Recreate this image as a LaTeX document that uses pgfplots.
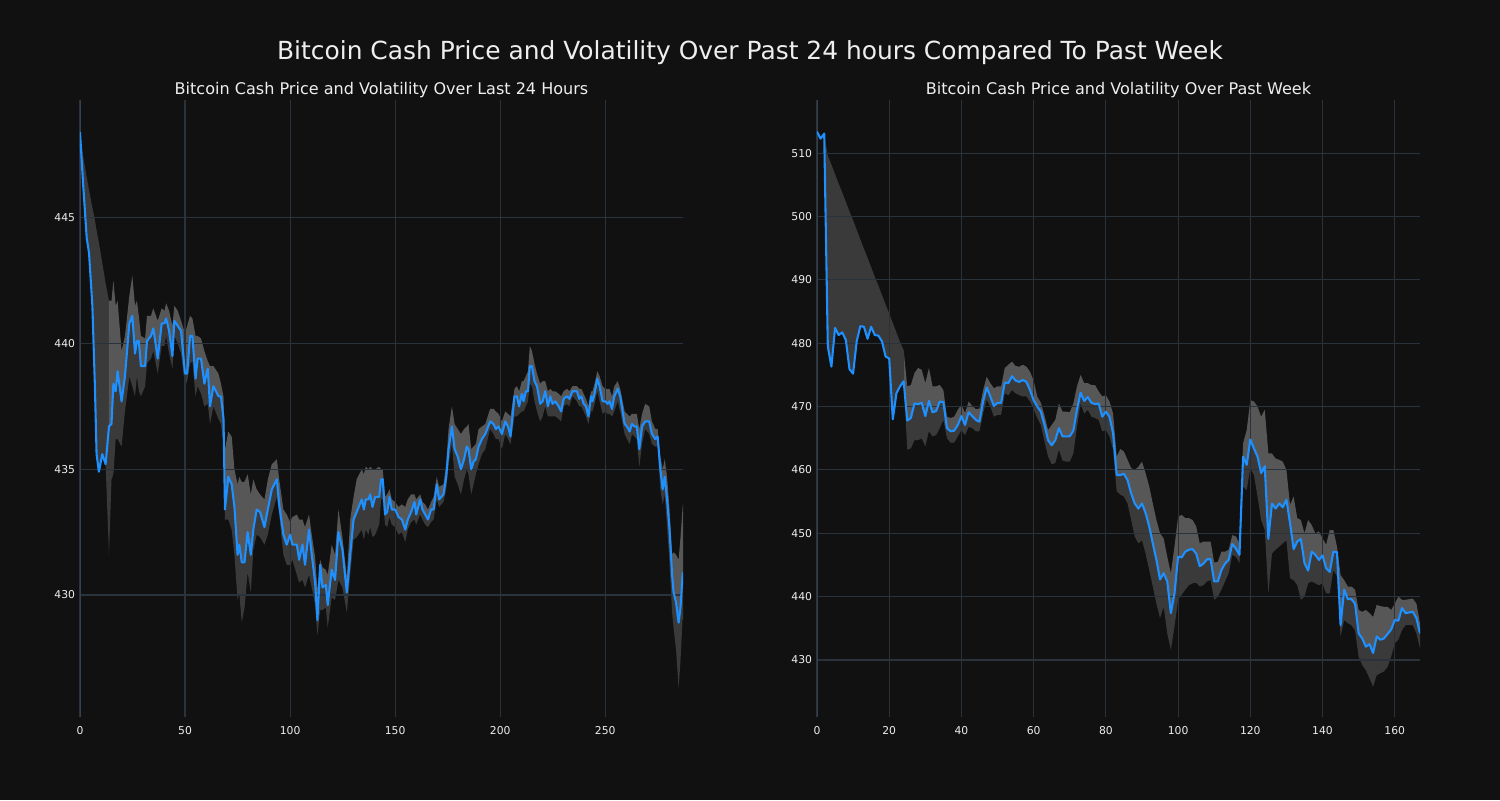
\documentclass[border=0pt]{standalone}
\usepackage{pgfplots}
\pgfplotsset{compat=1.18}
\usepackage{pgfplotstable}
\usepgfplotslibrary{fillbetween}
\usepackage{fontspec}
\setmainfont{DejaVu Sans}
\definecolor{bg}{HTML}{111111}
\definecolor{gridc}{HTML}{2A323C}
\definecolor{spinec}{HTML}{34404C}
\definecolor{pricec}{HTML}{1E90FF}
\definecolor{bandhi}{HTML}{575757}
\definecolor{bandlo}{HTML}{3A3A3A}
\definecolor{txt}{HTML}{EEEEEE}
\pagecolor{bg}

\pgfplotsset{
  layers/mylayers/.define layer set={axis background,pre main,axis grid,axis ticks,axis lines,axis tick labels,main,axis descriptions,axis foreground}{},
}

\pgfplotstableread{
x p u l
0 448.4 448.4 448.4
1.6 446.2 447.4 446.2
3.2 444.2 446.6 444.2
4.3 443.6 446.1 443.6
5.9 441.5 445.4 441.5
7.1 438.3 444.9 438.3
7.9 435.6 444.5 435.6
9 434.9 444.0 434.9
10.6 435.6 443.2 435.6
12.2 435.2 442.4 435.2
13.8 436.7 441.7 431.6
15 436.8 441.7 434.6
15.9 438.4 442.5 434.8
17 438.1 441.5 436.2
17.9 438.9 441.7 436.2
19.8 437.7 439.7 435.9
21.4 438.7 440.3 437.3
23.5 440.8 441.9 438.7
24.9 441.1 442.7 438.3
26.2 439.6 441.5 437.9
27.1 440.1 441.7 438.7
28 440.1 441.1 438.1
29 439.1 440.3 437.9
31 439.1 440.2 438.3
31.9 440.1 441.1 439.2
33.8 440.3 441.1 439.4
34.9 440.6 441.4 439.7
37 439.4 440.9 438.8
38.9 440.8 441.4 439.9
40.2 440.8 441.3 439.9
41 441.0 441.6 440.3
42.4 440.5 441.3 439.6
44 439.5 440.7 439.0
44.9 440.9 441.5 440.3
46.5 440.7 441.3 440.0
48.1 440.5 440.9 439.6
50 438.8 440.4 438.3
51 438.8 440.7 438.5
52.4 440.3 441.1 439.2
53.5 440.3 441.0 439.3
55 438.6 440.3 437.9
56 439.4 440.3 438.3
57.6 439.4 440.2 438.0
59.2 438.4 439.7 437.5
60.8 439.0 439.3 437.6
61.9 437.5 439.1 436.8
63.5 438.3 439.1 437.5
65.9 437.9 438.8 437.0
67.1 437.9 438.4 436.8
68.3 437.0 437.9 435.9
69 433.4 435.8 433.0
70.6 434.7 436.5 433.0
72.2 434.4 436.3 432.6
73.5 433.5 435.0 431.6
75 431.6 434.4 429.8
75.8 432.0 434.7 430.1
77 431.3 434.5 428.9
78.3 431.3 434.5 429.5
79.8 432.5 434.8 430.9
81.3 431.6 434.0 430.1
82.5 432.6 434.6 431.8
84.1 433.4 434.2 432.4
85.7 433.3 434.0 432.3
87.8 432.7 433.8 432.0
89.4 433.4 434.6 432.4
91.3 434.2 435.2 433.2
93.7 434.6 435.4 433.9
94.8 433.6 434.6 433.2
96.8 432.4 433.4 431.6
98.4 432.0 433.2 431.2
100 432.4 432.9 431.2
101.1 432.0 433.1 431.4
103.2 432.0 433.2 430.8
104.3 431.4 433.0 430.5
105.9 432.0 433.0 430.6
107.1 431.2 432.7 430.3
109 432.6 433.2 430.8
110.3 431.6 432.4 430.3
111.9 430.5 431.5 429.6
113 429.0 430.2 428.4
114.3 431.2 431.4 429.4
115.4 430.3 431.1 429.4
117 430.4 431.0 429.5
117.9 429.6 430.8 428.7
119.8 431.0 432.0 429.9
121.4 430.6 431.6 429.8
123 432.5 433.4 430.6
124.9 431.8 432.3 430.3
127 430.1 430.7 429.3
128.6 431.6 433.0 430.8
130.2 433.0 433.9 432.2
131.7 433.3 434.6 432.3
134.1 433.8 435.0 432.6
135.1 433.4 434.8 432.2
136 433.8 435.1 432.6
137.3 433.8 435.0 432.4
138.1 434.0 435.1 432.7
139.2 433.5 435.0 432.3
140.5 433.9 435.0 432.4
142.4 433.9 435.1 432.8
143.3 434.6 435.0 433.8
144.1 434.6 435.0 433.8
145.2 433.2 433.9 432.8
146.2 433.3 434.0 432.7
147.3 433.9 434.2 433.1
148.4 433.4 433.8 432.8
150 433.4 433.7 432.7
151.6 433.1 433.5 432.4
153.2 433.0 433.6 432.5
154.8 432.6 433.5 432.1
156 433.0 433.8 432.6
157.6 433.3 434.0 432.9
159.2 433.7 434.0 433.0
160 433.2 433.8 432.8
161.9 433.8 434.0 433.2
163 433.4 433.7 433.0
164.3 433.2 433.6 432.8
165.6 433.0 433.4 432.7
167.1 433.4 433.7 432.9
168.3 433.4 433.9 433.0
169.8 434.4 434.7 433.8
170.9 433.8 434.3 433.5
173 434.0 434.4 433.7
174.3 434.7 435.2 434.2
175.4 435.8 436.6 435.2
177 436.7 437.5 436.0
178.3 435.8 436.8 434.7
179.8 435.5 436.6 434.4
181.3 435.0 436.4 434.0
182.8 435.4 436.6 434.6
184.1 435.9 436.7 435.0
184.9 435.8 436.8 434.8
186.2 435.0 435.8 434.0
187.3 435.3 435.9 434.4
188.4 435.4 436.0 434.8
189.7 435.9 436.6 435.2
191.3 436.2 436.7 435.6
192.9 436.4 436.8 435.8
195.2 436.9 437.4 436.6
196.8 436.8 437.4 436.4
197.9 436.6 437.3 436.2
199.2 436.7 437.2 436.2
200.8 436.4 436.9 435.8
202.4 436.9 437.3 436.4
203.7 436.7 437.2 436.2
204.9 436.3 437.1 436.0
206.8 437.9 438.2 437.1
207.9 437.9 438.3 437.1
209 437.5 438.1 437.2
210.3 438.0 438.5 437.3
211.1 437.7 438.5 437.3
212.2 438.1 438.7 437.5
213.2 438.1 438.9 437.7
214.1 439.1 439.9 438.4
215.1 439.1 439.7 438.3
216.3 438.5 439.2 437.7
217.5 438.3 438.8 437.3
219 437.6 438.4 436.9
220.2 437.7 438.5 437.1
221.4 438.1 438.5 437.5
222.7 437.5 438.1 437.1
223.8 437.9 438.2 437.1
224.9 437.6 438.1 437.1
226.2 437.7 438.1 437.1
227.8 437.5 438.0 437.0
229 437.3 437.9 436.9
230.2 437.8 438.1 437.5
231.7 437.9 438.2 437.6
232.9 437.8 438.1 437.5
234.4 438.1 438.3 437.9
236.5 438.1 438.3 437.7
237.6 437.8 438.2 437.5
238.6 437.9 438.2 437.5
239.7 437.6 438.0 437.3
240.8 437.5 437.8 437.1
242 437.1 437.5 436.8
243.2 437.9 438.1 437.3
243.9 437.7 438.1 437.3
244.9 438.0 438.4 437.6
246.2 438.6 438.9 438.1
247.3 438.3 438.7 437.7
248.7 437.7 438.3 437.2
250 437.7 438.2 437.3
251.1 437.6 438.2 437.2
252 437.7 438.2 437.2
253.2 437.4 437.9 437.1
254.3 437.9 438.3 437.3
255.9 438.2 438.5 437.7
257.1 437.9 438.2 437.3
259.2 436.8 437.3 436.4
260.3 436.7 437.2 436.2
261.6 436.5 437.1 436.0
262.7 436.8 437.2 436.4
263.9 436.7 437.2 436.3
265 436.7 437.2 436.2
266.2 435.8 436.6 435.1
267.5 436.7 437.2 436.0
269 436.9 437.6 436.6
270.9 436.9 437.5 436.4
272.2 436.4 436.9 436.0
273.8 436.2 436.6 435.9
274.9 436.3 436.6 435.9
276.2 435.0 435.5 434.2
277.3 434.2 435.0 433.6
278.3 434.7 435.4 434.0
279.4 433.8 434.7 432.7
280.5 432.7 433.5 431.4
281.8 430.8 431.6 429.3
282.5 430.1 431.7 428.7
283.7 429.7 431.6 427.8
284.9 428.9 431.4 426.3
285.8 429.5 432.3 427.4
286.8 430.8 433.5 429.1
287 430.9 433.6 429.0
}\leftdata

\pgfplotstableread{
x p u l
0 513.4 513.4 513.4
1 512.3 512.3 512.3
2 513.1 513.1 513.1
3 479.5 509.6 479.5
4 476.3 508.2 476.3
5 482.4 506.7 482.4
6 481.3 505.2 481.3
7 481.7 503.8 481.7
8 480.5 502.3 480.5
9 475.9 500.8 475.9
10 475.2 499.4 475.2
11 480.3 497.9 480.3
12 482.7 496.4 482.7
13 482.6 494.9 482.6
14 480.7 493.5 480.7
15 482.6 492.0 482.6
16 481.3 490.5 481.3
17 481.2 489.1 481.2
18 480.3 487.6 480.3
19 477.9 486.1 477.9
20 477.6 484.7 477.6
21 468.0 483.2 468.0
22 472.1 481.7 472.1
23 473.2 480.2 473.2
24 474.0 478.9 474.0
25 467.8 473.2 463.2
26 468.2 473.4 463.4
27 470.5 475.3 464.7
28 470.4 476.1 464.7
29 470.6 475.8 465.0
30 468.5 473.7 463.7
31 470.9 476.1 466.1
32 469.1 473.2 465.3
33 469.3 473.2 465.5
34 470.8 473.4 466.6
35 470.7 472.6 467.9
36 466.6 468.4 465.0
37 466.1 468.2 464.3
38 466.2 468.4 464.3
39 467.1 469.5 465.3
40 468.5 470.3 466.3
41 467.1 469.0 465.5
42 469.1 470.8 466.8
43 468.5 470.1 466.6
44 467.9 469.6 466.1
45 467.6 469.7 466.1
46 470.8 472.6 468.9
47 473.0 474.7 471.1
48 471.6 473.7 470.0
49 470.1 472.9 468.4
50 470.6 473.2 468.7
51 470.6 473.2 468.7
52 473.8 476.1 472.1
53 473.7 476.6 471.8
54 474.8 477.1 472.6
55 474.1 476.4 472.1
56 473.9 476.3 471.8
57 474.2 476.6 471.6
58 473.9 476.3 471.6
59 472.6 475.5 470.8
60 471.0 474.1 469.6
61 470.0 471.6 468.2
62 469.2 470.6 467.1
63 467.1 468.6 464.5
64 464.7 466.3 462.1
65 463.9 467.1 460.9
66 464.7 467.9 461.1
67 466.6 470.5 463.2
68 465.3 469.2 461.5
69 465.3 469.2 461.3
70 465.3 469.1 461.3
71 466.2 470.5 462.6
72 469.5 473.2 466.8
73 472.2 475.0 470.5
74 470.9 473.7 468.9
75 471.5 473.7 469.5
76 470.6 473.4 468.4
77 470.4 473.4 468.2
78 470.5 472.4 467.9
79 468.4 471.6 466.1
80 469.2 471.8 466.3
81 468.4 470.8 465.3
82 465.8 468.9 463.2
83 459.2 462.1 456.6
84 459.2 463.3 456.1
85 459.4 462.9 455.8
86 458.4 461.6 454.7
87 456.3 460.3 452.1
88 454.7 460.0 449.5
89 453.9 460.5 448.4
90 454.7 461.3 448.9
91 453.2 459.5 446.8
92 451.1 457.4 444.2
93 448.4 454.7 441.6
94 445.8 452.1 438.9
95 442.7 450.0 436.6
96 443.7 449.2 438.4
97 442.4 446.3 434.2
98 437.4 443.7 431.6
99 440.5 447.9 435.3
100 446.3 452.6 439.5
101 446.2 452.9 440.3
102 447.1 452.4 441.1
103 447.4 452.4 441.8
104 447.5 452.1 442.1
105 446.8 451.1 442.2
106 444.8 448.4 441.6
107 445.2 448.7 441.8
108 445.9 448.7 442.4
109 445.9 448.7 442.6
110 442.4 445.4 439.5
111 442.4 445.5 440.0
112 444.2 447.1 441.1
113 445.2 447.1 442.4
114 445.8 447.4 443.7
115 448.3 449.7 446.6
116 447.6 449.5 446.3
117 446.6 448.4 445.3
118 462.1 464.2 457.4
119 460.8 466.3 456.8
120 464.8 471.0 460.3
121 463.4 470.8 459.2
122 462.1 470.0 455.8
123 459.5 468.4 452.1
124 460.6 469.5 450.5
125 449.1 462.6 440.5
126 454.7 462.6 446.8
127 453.9 461.8 447.4
128 454.7 461.6 447.9
129 454.1 461.3 448.4
130 455.3 460.0 448.9
131 451.6 454.5 442.9
132 447.5 455.8 442.6
133 448.7 452.4 441.8
134 449.1 452.1 439.5
135 445.3 450.0 440.0
136 444.1 452.1 442.1
137 447.1 451.3 442.4
138 446.6 450.0 442.1
139 445.8 450.3 441.8
140 446.5 449.2 442.1
141 444.5 448.2 440.5
142 443.9 450.5 440.5
143 447.1 450.5 444.2
144 447.0 447.9 443.2
145 435.5 443.4 433.7
146 441.1 442.6 436.3
147 439.6 441.6 435.8
148 439.6 441.6 435.5
149 438.9 441.1 434.7
150 434.2 437.9 430.5
151 433.4 437.6 429.2
152 432.1 437.9 428.4
153 432.5 437.4 427.1
154 431.1 436.8 425.8
155 433.7 438.7 427.6
156 433.2 438.5 427.9
157 433.4 438.4 428.2
158 434.1 438.4 428.9
159 434.8 437.9 430.5
160 436.3 438.9 432.6
161 436.2 440.0 433.2
162 438.2 439.5 434.7
163 437.4 439.5 435.5
164 437.5 439.6 435.5
165 437.6 439.7 435.5
166 436.6 438.9 434.2
167 434.2 435.8 431.8
}\rightdata

\pgfplotsset{
  mystyle/.style={
    set layers=mylayers,
    scale only axis, anchor=south west,
    width=435.8pt, height=445.9pt,
    axis line style={draw=none},
    major tick length=0pt,
    grid=major, major grid style={draw=gridc, line width=0.8pt},
    ticklabel style={font=\fontsize{7.8}{9}\selectfont, text=txt},
    xticklabel style={yshift=-3.5pt},
    /pgf/number format/assume math mode=true,
    title style={font=\fontsize{11.6}{13}\selectfont, text=txt, at={(0.5,1)}, anchor=base, yshift=-2pt},
  }
}

\begin{document}%
\begin{tikzpicture}[x=1pt,y=1pt]
\node[anchor=base, text=txt, font=\fontsize{18}{22}\selectfont] at (542,535.1) {Bitcoin Cash Price and Volatility Over Past 24 hours Compared To Past Week};

\begin{axis}[mystyle, at={(57.8pt,60pt)},
  xmin=0, xmax=287, ymin=425.15, ymax=449.68,
  xtick={0,50,100,150,200,250}, ytick={430,435,440,445},
  title={Bitcoin Cash Price and Volatility Over Last 24 Hours}]
\addplot[name path=P, draw=none, forget plot] table[x=x,y=p] {\leftdata};
\addplot[name path=U, draw=none, forget plot] table[x=x,y=u] {\leftdata};
\addplot[name path=L, draw=none, forget plot] table[x=x,y=l] {\leftdata};
\addplot[fill=bandlo, draw=none] fill between[of=P and U, soft clip={domain=0:13.8}];
\addplot[fill=bandhi, draw=none] fill between[of=P and U, soft clip={domain=13.8:287}];
\addplot[fill=bandlo, draw=none] fill between[of=L and P];
\draw[spinec, line width=0.9pt] (rel axis cs:0,0) -- (rel axis cs:0,1);
\addplot[pricec, line width=1.5pt, line join=round] table[x=x,y=p] {\leftdata};
\end{axis}

\begin{axis}[mystyle, at={(590.4pt,60pt)},
  xmin=0, xmax=167, ymin=421.0, ymax=518.4,
  xtick={0,20,40,60,80,100,120,140,160}, ytick={430,440,450,460,470,480,490,500,510},
  title={Bitcoin Cash Price and Volatility Over Past Week}]
\addplot[name path=P, draw=none, forget plot] table[x=x,y=p] {\rightdata};
\addplot[name path=U, draw=none, forget plot] table[x=x,y=u] {\rightdata};
\addplot[name path=L, draw=none, forget plot] table[x=x,y=l] {\rightdata};
\addplot[fill=bandlo, draw=none] fill between[of=P and U, soft clip={domain=0:24}];
\addplot[fill=bandhi, draw=none] fill between[of=P and U, soft clip={domain=24:167}];
\addplot[fill=bandlo, draw=none] fill between[of=L and P];
\draw[spinec, line width=0.9pt] (rel axis cs:0,0) -- (rel axis cs:0,1);
\addplot[pricec, line width=1.5pt, line join=round] table[x=x,y=p] {\rightdata};
\end{axis}
\pgfresetboundingbox
\useasboundingbox (0,0) rectangle (1084,578.16);
\end{tikzpicture}%
\end{document}
